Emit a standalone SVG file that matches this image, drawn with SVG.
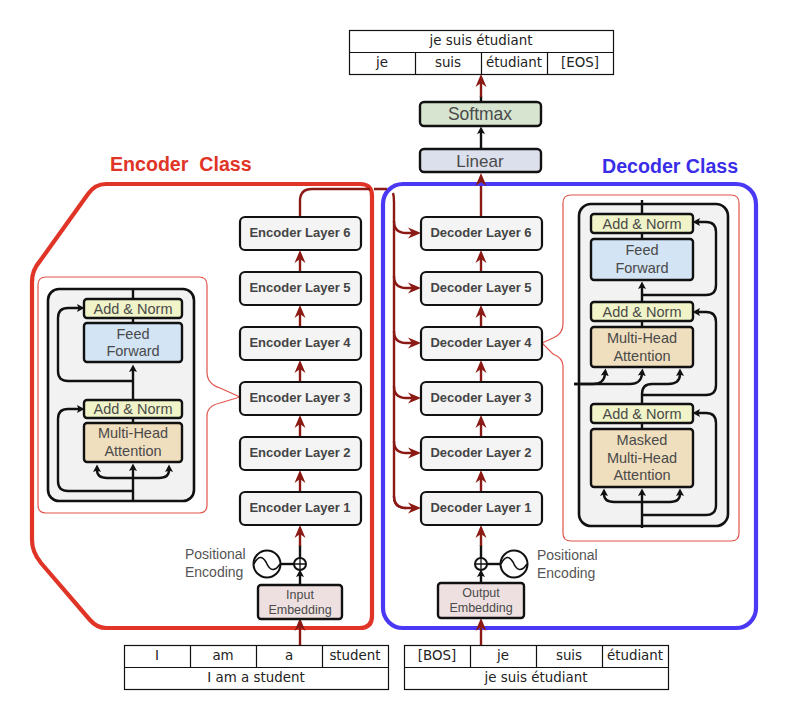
<svg xmlns="http://www.w3.org/2000/svg" width="787" height="708" viewBox="0 0 787 708">
<style>
text{font-family:"Liberation Sans",Arial,sans-serif;text-anchor:middle;fill:#4a4a4a}
.layer rect{fill:#f4f4f4;stroke:#111;stroke-width:2.2}
.layer text{font-size:13px;font-weight:700;fill:#444}
.box{stroke:#111;stroke-width:2.4}
.an{fill:#f0f4c8}.ff{fill:#d3e4f4}.mh{fill:#f0dfbe}.em{fill:#eee0e0}
.t14{font-size:14.5px}
.t12{font-size:12.5px}
.tbl rect,.tbl path{fill:#fff;stroke:#111;stroke-width:1.2}
.tbl text{font-family:"DejaVu Sans",Verdana,sans-serif;font-size:13.4px;fill:#222}
.call{fill:none;stroke:#e2544c;stroke-width:1.2}
.panel{fill:#f2f2f2;stroke:#111;stroke-width:2.6}
.r{fill:none;stroke:#8b1a14;stroke-width:2.4}
.b{fill:none;stroke:#111;stroke-width:2.4}
.ra{marker-end:url(#rh)}
.ba{marker-end:url(#bh)}
.pe text{text-anchor:start;font-size:14px;fill:#555}
.sine{fill:#fff;stroke:#111;stroke-width:2}
</style>
<defs>
<marker id="rh" markerUnits="userSpaceOnUse" markerWidth="14" markerHeight="12" viewBox="0 -6 14 12" refX="5" refY="0" orient="auto"><path d="M0,-5.5 L13,0 L0,5.5 L4,0 Z" fill="#8b1a14"/></marker>
<marker id="bh" markerUnits="userSpaceOnUse" markerWidth="9" markerHeight="9" viewBox="0 -4.5 9 9" refX="2" refY="0" orient="auto"><path d="M0,-4 L7.5,0 L0,4 L1.5,0 Z" fill="#111"/></marker>
</defs>

<g id="encoder-class">
<path d="M106,184 H360 Q372,184 372,196 V616 Q372,628 360,628 H106 Q97,628 90,620 L41,563 Q32,552 32,540 V282 Q32,270 40,261 L88,194 Q95,184 106,184 Z" fill="none" stroke="#e03426" stroke-width="4.2"/>
<text x="110" y="171" xml:space="preserve" style="font-size:19.6px;font-weight:700;fill:#e03426;text-anchor:start">Encoder  Class</text>
</g>
<g id="decoder-class">
<rect x="383" y="184" width="373" height="444" rx="20" fill="none" stroke="#4a38f5" stroke-width="4.2"/>
<text x="602" y="173" style="font-size:19.6px;font-weight:700;fill:#3a2de8;text-anchor:start">Decoder Class</text>
</g>

<path id="encoder-callout" class="call" d="M240,397 L220,388 Q207,384 207,372 V285 Q207,277 199,277 H46 Q38,277 38,285 V505 Q38,513 46,513 H199 Q207,513 207,505 V416 Q207,406 220,403 Z"/>
<path id="decoder-callout" class="call" d="M542,343 L553,338 Q563,334 563,324 V203 Q563,195 571,195 H731 Q739,195 739,203 V533 Q739,541 731,541 H571 Q563,541 563,533 V366 Q563,358 553,354 L542,343 Z"/>
<rect id="encoder-panel" class="panel" x="48" y="289" width="146" height="212" rx="11"/>
<rect id="decoder-panel" class="panel" x="579" y="204" width="149" height="322" rx="12"/>

<g id="connectors">
<!-- main stack -->
<path class="r ra" d="M300,645 V626"/>
<path class="b ba" d="M300,585 V575"/>
<path class="b" d="M300,558 V545"/>
<path class="r ra" d="M300,546 V533"/>
<path class="r ra" d="M300,492 V478"/>
<path class="r ra" d="M300,437 V423"/>
<path class="r ra" d="M300,382 V368"/>
<path class="r ra" d="M300,327 V313"/>
<path class="r ra" d="M300,272 V258"/>
<path class="r ra" d="M481,645 V626"/>
<path class="b ba" d="M481,583 V575"/>
<path class="b" d="M481,558 V545"/>
<path class="r ra" d="M481,546 V533"/>
<path class="r ra" d="M481,492 V478"/>
<path class="r ra" d="M481,437 V423"/>
<path class="r ra" d="M481,382 V368"/>
<path class="r ra" d="M481,327 V313"/>
<path class="r ra" d="M481,272 V258"/>
<path class="r" d="M481,217 V186"/>
<path class="r ra" d="M481,182 V181"/>
<path class="b ba" d="M481,149 V132"/>
<path class="b" d="M481,102 V96"/>
<path class="r ra" d="M481,97 V82"/>
<path class="r" d="M300,217 V201 Q300,189 312,189 H370 M374,189 H387 M393,193 Q394,196 394,202 V496 Q394,508 406,508"/>
<path class="r ra" d="M394,221 Q394,233 406,233 H413"/>
<path class="r ra" d="M394,276 Q394,288 406,288 H413"/>
<path class="r ra" d="M394,331 Q394,343 406,343 H413"/>
<path class="r ra" d="M394,386 Q394,398 406,398 H413"/>
<path class="r ra" d="M394,441 Q394,453 406,453 H413"/>
<path class="r ra" d="M394,496 Q394,508 406,508 H413"/>
<!-- encoder inset -->
<path class="b" d="M133,289 V299 M133,318 V323 M133,418 V423"/>
<path class="b ba" d="M133,400 V370"/>
<path class="b ba" d="M133,501 V469"/>
<path class="b ba" d="M133,381 H68 Q58,381 58,371 V318 Q58,308 68,308 H79"/>
<path class="b ba" d="M133,491 H68 Q58,491 58,481 V419 Q58,409 68,409 H79"/>
<path class="b ba" d="M133,478 H107 Q97,478 97,470"/>
<path class="b ba" d="M133,478 H159 Q169,478 169,470"/>
<!-- decoder inset -->
<path class="b" d="M642,200 V214 M642,233 V239 M642,321 V327 M642,423 V429"/>
<path class="b ba" d="M642,302 V287"/>
<path class="b ba" d="M642,295 H706 Q716,295 716,285 V232 Q716,222 706,222 H698"/>
<path class="b ba" d="M642,404 V394 Q642,384 652,384 H668 Q680,384 680,374"/>
<path class="b ba" d="M642,395 H706 Q716,395 716,385 V322 Q716,312 706,312 H698"/>
<path class="b ba" d="M574,384 H593 Q604,384 605,374"/>
<path class="b ba" d="M574,384 H630 Q641,384 642,374"/>
<path class="b ba" d="M642,528 V494"/>
<path class="b ba" d="M642,502 H614 Q604,502 604,494"/>
<path class="b ba" d="M642,502 H670 Q680,502 680,494"/>
<path class="b ba" d="M642,515 H706 Q716,515 716,505 V423 Q716,413 706,413 H698"/>
<!-- positional -->
<path class="b" d="M281,564 H294"/>
<path class="b" d="M487,564 H500"/>
</g>

<g id="encoder-add-norm-2"><rect class="box an" x="84" y="299" width="98" height="19" rx="3"/><text class="t14" x="133" y="314">Add &amp; Norm</text></g>
<g id="encoder-feed-forward"><rect class="box ff" x="84" y="323" width="98" height="39" rx="3"/><text class="t14" x="133" y="339">Feed</text><text class="t14" x="133" y="356">Forward</text></g>
<g id="encoder-add-norm-1"><rect class="box an" x="84" y="400" width="98" height="18" rx="3"/><text class="t14" x="133" y="414">Add &amp; Norm</text></g>
<g id="encoder-multi-head"><rect class="box mh" x="84" y="423" width="98" height="39" rx="3"/><text class="t14" x="133" y="438">Multi-Head</text><text class="t14" x="133" y="456">Attention</text></g>

<g id="decoder-add-norm-3"><rect class="box an" x="591" y="214" width="102" height="19" rx="3"/><text class="t14" x="642" y="229">Add &amp; Norm</text></g>
<g id="decoder-feed-forward"><rect class="box ff" x="591" y="239" width="102" height="41" rx="3"/><text class="t14" x="642" y="255">Feed</text><text class="t14" x="642" y="273">Forward</text></g>
<g id="decoder-add-norm-2"><rect class="box an" x="591" y="302" width="102" height="19" rx="3"/><text class="t14" x="642" y="317">Add &amp; Norm</text></g>
<g id="decoder-multi-head"><rect class="box mh" x="591" y="327" width="102" height="40" rx="3"/><text class="t14" x="642" y="343">Multi-Head</text><text class="t14" x="642" y="361">Attention</text></g>
<g id="decoder-add-norm-1"><rect class="box an" x="591" y="404" width="102" height="19" rx="3"/><text class="t14" x="642" y="419">Add &amp; Norm</text></g>
<g id="decoder-masked"><rect class="box mh" x="591" y="429" width="102" height="58" rx="3"/><text class="t14" x="642" y="445">Masked</text><text class="t14" x="642" y="463">Multi-Head</text><text class="t14" x="642" y="480">Attention</text></g>

<g id="encoder-layer-6" class="layer"><rect x="240" y="217" width="121" height="33" rx="5"/><text x="300" y="237">Encoder Layer 6</text></g>
<g id="encoder-layer-5" class="layer"><rect x="240" y="272" width="121" height="33" rx="5"/><text x="300" y="292">Encoder Layer 5</text></g>
<g id="encoder-layer-4" class="layer"><rect x="240" y="327" width="121" height="33" rx="5"/><text x="300" y="347">Encoder Layer 4</text></g>
<g id="encoder-layer-3" class="layer"><rect x="240" y="382" width="121" height="33" rx="5"/><text x="300" y="402">Encoder Layer 3</text></g>
<g id="encoder-layer-2" class="layer"><rect x="240" y="437" width="121" height="33" rx="5"/><text x="300" y="457">Encoder Layer 2</text></g>
<g id="encoder-layer-1" class="layer"><rect x="240" y="492" width="121" height="33" rx="5"/><text x="300" y="512">Encoder Layer 1</text></g>
<g id="decoder-layer-6" class="layer"><rect x="421" y="217" width="121" height="33" rx="5"/><text x="481" y="237">Decoder Layer 6</text></g>
<g id="decoder-layer-5" class="layer"><rect x="421" y="272" width="121" height="33" rx="5"/><text x="481" y="292">Decoder Layer 5</text></g>
<g id="decoder-layer-4" class="layer"><rect x="421" y="327" width="121" height="33" rx="5"/><text x="481" y="347">Decoder Layer 4</text></g>
<g id="decoder-layer-3" class="layer"><rect x="421" y="382" width="121" height="33" rx="5"/><text x="481" y="402">Decoder Layer 3</text></g>
<g id="decoder-layer-2" class="layer"><rect x="421" y="437" width="121" height="33" rx="5"/><text x="481" y="457">Decoder Layer 2</text></g>
<g id="decoder-layer-1" class="layer"><rect x="421" y="492" width="121" height="33" rx="5"/><text x="481" y="512">Decoder Layer 1</text></g>

<g id="softmax"><rect class="box" x="420" y="102" width="121" height="24" rx="4" fill="#d6e4d0"/><text x="480" y="120" style="font-size:17.5px">Softmax</text></g>
<g id="linear"><rect class="box" x="420" y="149" width="121" height="23" rx="4" fill="#dcdfec"/><text x="480" y="167" style="font-size:17px">Linear</text></g>

<g id="input-embedding"><rect class="box em" x="258" y="585" width="84" height="34" rx="3"/><text class="t12" x="300" y="599">Input</text><text class="t12" x="300" y="614">Embedding</text></g>
<g id="output-embedding"><rect class="box em" x="438" y="583" width="86" height="35" rx="3"/><text class="t12" x="481" y="597">Output</text><text class="t12" x="481" y="612">Embedding</text></g>

<g id="encoder-positional" class="pe">
<circle class="sine" cx="267" cy="564" r="13.5"/><path d="M254,564 Q260,552 266,562 Q272,576 280,564" fill="none" stroke="#111" stroke-width="1.6"/>
<circle class="sine" cx="300" cy="564" r="6"/><path d="M294,564 H306 M300,558 V570" stroke="#111" stroke-width="1.3"/>
<text x="185" y="559">Positional</text><text x="185" y="577">Encoding</text>
</g>
<g id="decoder-positional" class="pe">
<circle class="sine" cx="514" cy="564" r="13.5"/><path d="M501,564 Q507,552 513,562 Q519,576 527,564" fill="none" stroke="#111" stroke-width="1.6"/>
<circle class="sine" cx="481" cy="564" r="6"/><path d="M475,564 H487 M481,558 V570" stroke="#111" stroke-width="1.3"/>
<text x="537" y="560">Positional</text><text x="537" y="578">Encoding</text>
</g>

<g id="output-table" class="tbl">
<rect x="349.5" y="30.5" width="264" height="44"/><path d="M349.5,52.5 H613.5 M415.5,52.5 V74.5 M481.5,52.5 V74.5 M547.5,52.5 V74.5"/>
<text x="481" y="45">je suis étudiant</text><text x="382" y="67">je</text><text x="448" y="67">suis</text><text x="514" y="67">étudiant</text><text x="580" y="67">[EOS]</text>
</g>
<g id="input-table" class="tbl">
<rect x="124.5" y="645.5" width="264" height="44"/><path d="M124.5,667.5 H388.5 M190.5,645.5 V667.5 M256.5,645.5 V667.5 M322.5,645.5 V667.5"/>
<text x="157" y="660">I</text><text x="223" y="660">am</text><text x="289" y="660">a</text><text x="355" y="660">student</text><text x="256" y="682">I am a student</text>
</g>
<g id="target-table" class="tbl">
<rect x="404.5" y="645.5" width="264" height="44"/><path d="M404.5,667.5 H668.5 M470.5,645.5 V667.5 M536.5,645.5 V667.5 M602.5,645.5 V667.5"/>
<text x="437" y="660">[BOS]</text><text x="503" y="660">je</text><text x="569" y="660">suis</text><text x="635" y="660">étudiant</text><text x="536" y="682">je suis étudiant</text>
</g>
</svg>
